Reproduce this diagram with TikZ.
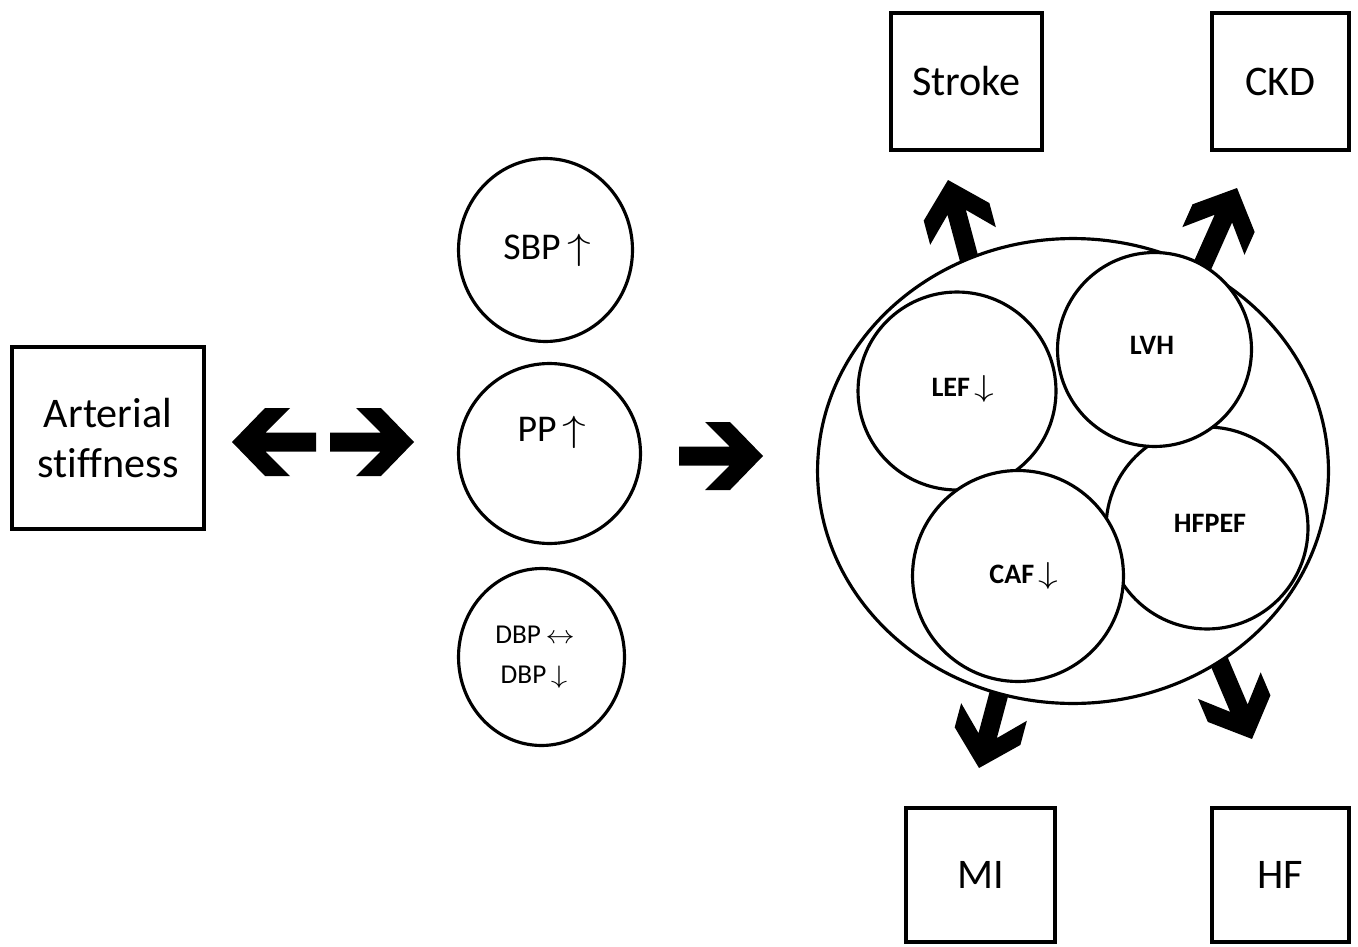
\documentclass[tikz,border=0pt]{standalone}
\usepackage{fontspec}
\setmainfont{Carlito}[Ligatures=NoCommon]
\usetikzlibrary{shapes.geometric}

\newcommand{\up}{\,\scalebox{1.3}[1]{$\uparrow$}}
\newcommand{\down}{\,\scalebox{1.3}[1]{$\downarrow$}}
\newcommand{\both}{\,\scalebox{1.15}[1]{$\leftrightarrow$}}

\tikzset{
  box/.style={draw, line width=2.2pt, inner sep=0pt, align=center, font=\fontsize{24}{28.4}\selectfont},
  oval/.style={draw, ellipse, line width=1.8pt, inner sep=0pt, fill=white},
  bigtxt/.style={font=\fontsize{21.5}{25}\selectfont},
  smalltxt/.style={font=\fontsize{15.5}{19}\selectfont},
  boldtxt/.style={font=\fontsize{16}{19}\selectfont\bfseries},
  blockarrow/.pic={\fill (0,0) -- (-33,34) -- (-58,34) -- (-33.5,9.5) -- (-#1,9.5) -- (-#1,-9.5) -- (-33.5,-9.5) -- (-58,-34) -- (-33,-34) -- cycle;}
}

\begin{document}
\begin{tikzpicture}[x=0.02cm, y=-0.02cm]
  \useasboundingbox (0,0) rectangle (1358,946);
  % cause
  \node[box, minimum width=3.84cm, minimum height=3.64cm] (stiff) at (108,438) {Arterial\\stiffness};
  \pic[rotate=180] at (232,442) {blockarrow=84};
  \pic at (414,442) {blockarrow=84};
  % pressures
  \node[oval, minimum width=3.48cm, minimum height=3.66cm] (sbp) at (545.5,250) {};
  \node[bigtxt] (sbptxt) at (547,250) {SBP\up};
  \node[oval, minimum width=3.64cm, minimum height=3.6cm] (pp) at (549.5,453.5) {};
  \node[bigtxt] (pptxt) at (552,432) {PP\up};
  \node[oval, minimum width=3.32cm, minimum height=3.54cm] (dbp) at (541.5,657) {};
  \node[smalltxt] (dbpa) at (535,635) {DBP\both};
  \node[smalltxt] (dbpb) at (534,677) {DBP\down};
  \pic at (763,456) {blockarrow=84};
  % outcomes
  \pic[rotate=105] at (948,180) {blockarrow=100};
  \pic[rotate=66] at (1237,188) {blockarrow=100};
  \pic[rotate=255] at (979,768) {blockarrow=100};
  \pic[rotate=293] at (1252,739) {blockarrow=100};
  \node[oval, minimum width=10.22cm, minimum height=9.3cm] (heart) at (1073,471) {};
  \node[oval, minimum size=4.04cm] (hfpef) at (1207,528) {};
  \node[oval, minimum size=3.96cm] (lef) at (957,391) {};
  \node[oval, minimum size=3.88cm] (lvh) at (1154.5,349.5) {};
  \node[oval, minimum size=4.22cm] (caf) at (1018,576) {};
  \node[boldtxt] (leftxt) at (963,389) {LEF\down};
  \node[boldtxt] (lvhtxt) at (1152,345) {LVH};
  \node[boldtxt] (hfpeftxt) at (1210,523) {HFPEF};
  \node[boldtxt] (caftxt) at (1024,576) {CAF\down};
  \node[box, minimum width=3.02cm, minimum height=2.74cm] (stroke) at (966.5,81.5) {Stroke};
  \node[box, minimum width=2.74cm, minimum height=2.74cm] (ckd) at (1280.5,81.5) {CKD};
  \node[box, minimum width=2.98cm, minimum height=2.68cm] (mi) at (980.5,875) {MI};
  \node[box, minimum width=2.74cm, minimum height=2.68cm] (hf) at (1280.5,875) {HF};
\end{tikzpicture}
\end{document}
